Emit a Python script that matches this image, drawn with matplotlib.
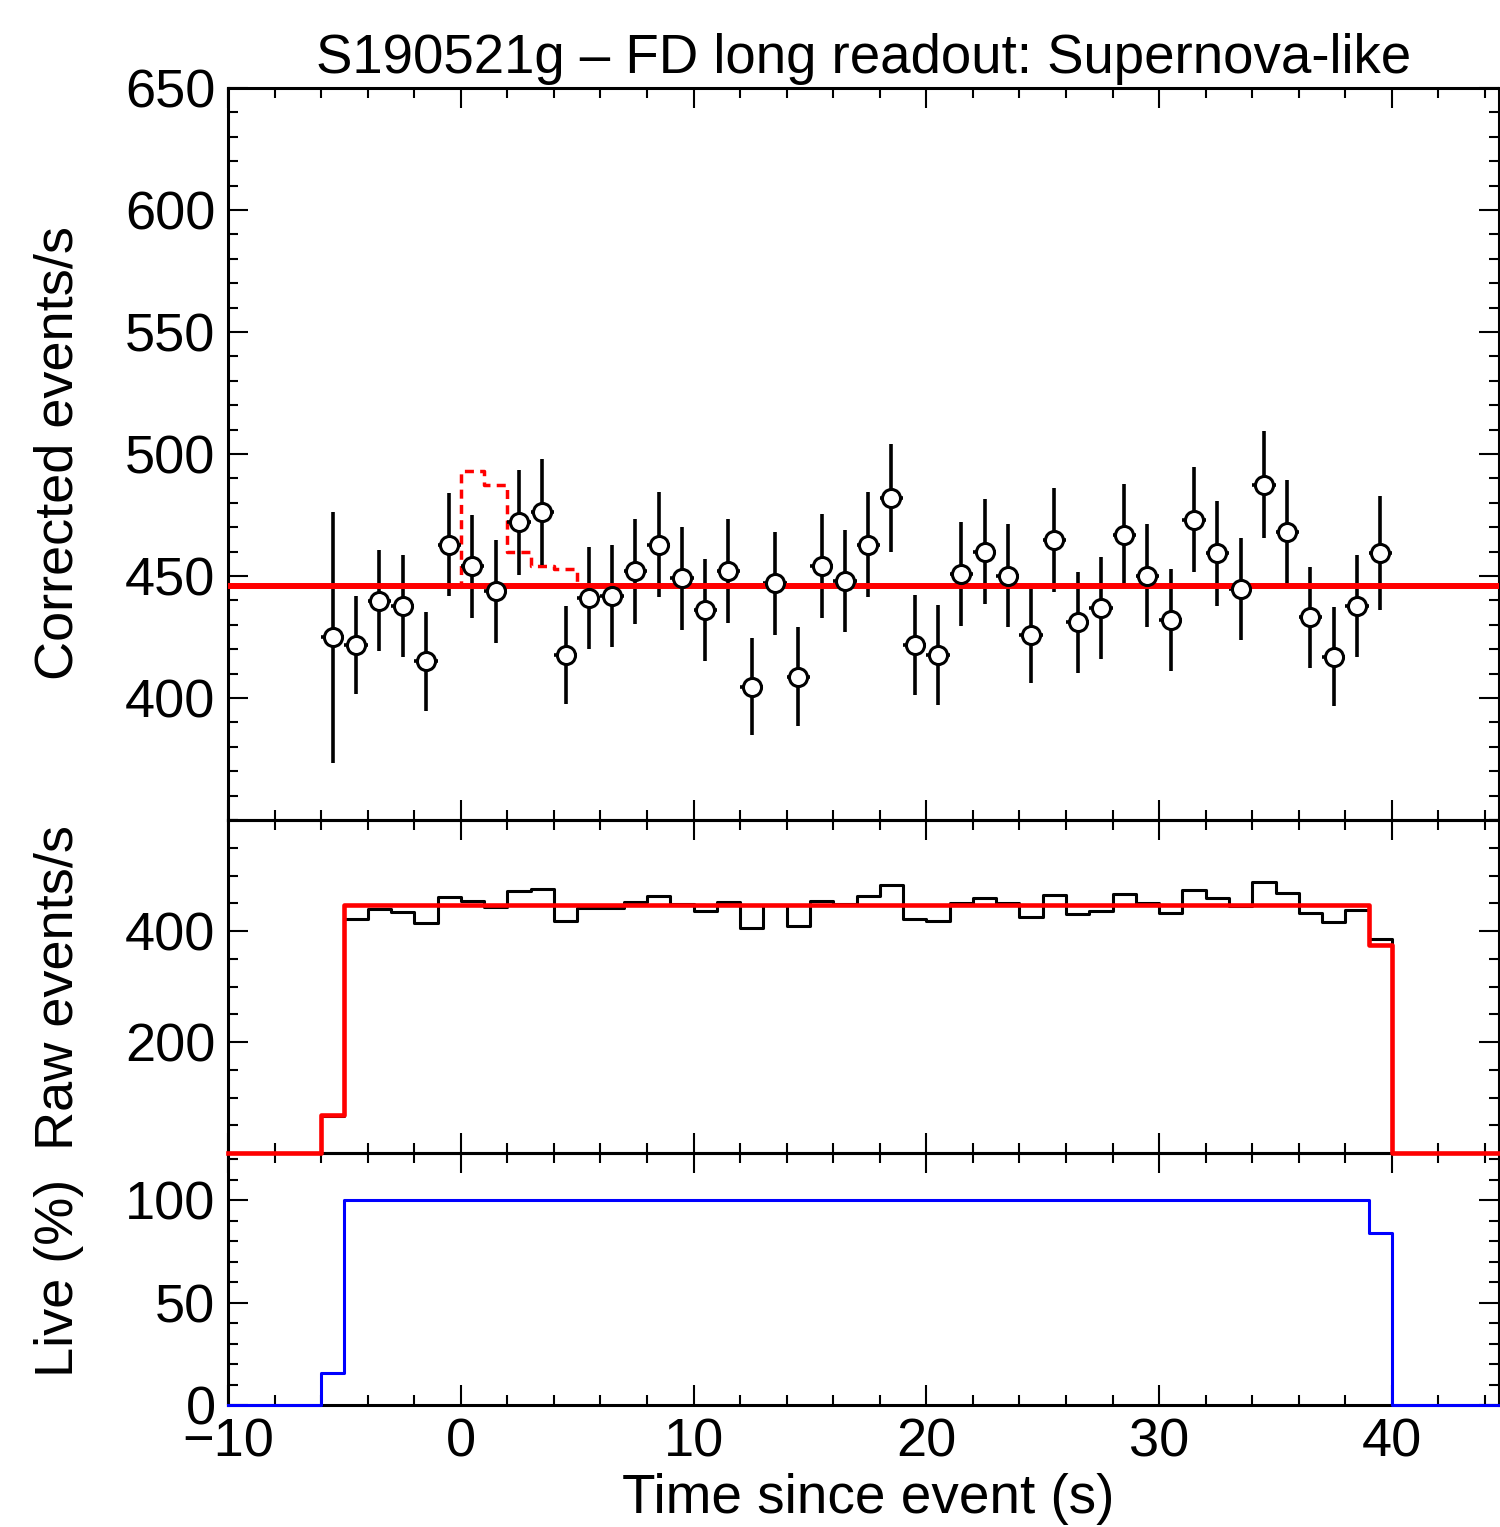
import matplotlib.pyplot as plt
import numpy as np
from matplotlib.ticker import MultipleLocator

plt.rcParams['font.family'] = ['Liberation Sans', 'DejaVu Sans']

# bin centres of the 1 s bins (-6 .. 40)
t_centers = np.arange(-5.5, 40.0, 1.0)

# corrected rate (events/s) and its error
corrected = [424.8, 421.7, 439.9, 437.8, 415.0, 462.9, 454.0, 443.7, 472.0, 476.2,
             417.7, 441.0, 441.9, 451.9, 462.9, 449.0, 436.0, 452.0, 404.7, 447.1,
             408.8, 454.2, 448.0, 462.9, 482.0, 421.7, 417.7, 450.8, 460.0, 450.1,
             425.9, 464.9, 431.0, 436.9, 467.0, 450.1, 432.0, 473.1, 459.3, 444.7,
             487.4, 468.0, 433.0, 416.9, 437.8, 459.3]
corrected_err = [51.4, 20.2, 20.7, 20.8, 20.3, 21.3, 21.2, 21.0, 21.4, 21.6,
                 20.2, 21.0, 20.9, 21.4, 21.5, 21.0, 20.9, 21.4, 20.0, 21.1,
                 20.2, 21.4, 21.0, 21.5, 22.1, 20.6, 20.5, 21.2, 21.4, 21.2,
                 19.7, 21.3, 20.7, 20.8, 20.9, 21.2, 20.8, 21.6, 21.4, 21.0,
                 22.0, 21.4, 20.6, 20.2, 20.8, 23.3]

# raw rate (events/s) in the same bins, middle panel
raw = [66, 421.7, 439.9, 434.8, 413.8, 461.8, 454.0, 443.7, 472.0, 476.2,
       417.7, 441.0, 441.9, 451.9, 462.9, 449.0, 436.0, 452.0, 404.7, 447.1,
       408.8, 454.2, 448.0, 462.9, 482.0, 421.7, 417.7, 450.8, 460.0, 450.1,
       425.9, 464.9, 431.0, 436.9, 467.0, 450.1, 432.0, 473.1, 459.3, 444.7,
       487.4, 468.0, 433.0, 416.9, 437.8, 385.0]

# flat background fit
background = 446

# supernova-like expectation (dashed)
sn_edges = [-10, 0, 1, 2, 3, 4, 5, 44.6]
sn_rate = [446, 493, 487.5, 460, 454, 453, 446]

# expected raw rate and live fraction
live_edges = [-10, -6, -5, 39, 40, 44.6]
model_raw = [0, 69, 446, 375, 0]
live_pct = [0, 15.5, 100, 84, 0]

xmin, xmax = -10, 44.6
FS = 39
W, H = 1500, 1527
fig = plt.figure(figsize=(W / 100, H / 100), dpi=100)
left = 228 / W
width = 1499 / W - left


def panel(top_px, bot_px):
    return fig.add_axes([left, 1 - bot_px / H, width, (bot_px - top_px) / H])


def step_line(ax, edges, vals, **kw):
    # histogram outline drawn as a post step
    ax.step(edges, list(vals) + [vals[-1]], where='post', **kw)


ax1 = panel(88, 820)
ax3 = panel(1153, 1405)
ax2 = panel(820, 1153)
ax2.set_zorder(3)
ax2.patch.set_visible(False)

for ax in (ax1, ax2, ax3):
    ax.set_xlim(xmin, xmax)
    ax.xaxis.set_major_locator(MultipleLocator(10))
    ax.xaxis.set_minor_locator(MultipleLocator(2))
    ax.tick_params(which='both', direction='in', top=True, right=True,
                   labelsize=FS, width=1.5, pad=9)
    ax.tick_params(which='major', length=14.5)
    ax.tick_params(which='minor', length=7)
    for s in ax.spines.values():
        s.set_linewidth(2.2)
for ax in (ax1, ax2):
    ax.tick_params(labelbottom=False)

# top panel: corrected rate
edges = np.concatenate([t_centers - 0.5, [t_centers[-1] + 0.5]])
step_line(ax1, sn_edges, sn_rate, color='red', lw=2.5,
          linestyle=(0, (2.6, 1.8)), zorder=2)
ax1.errorbar(t_centers, corrected, yerr=corrected_err, xerr=0.5, fmt='none',
             ecolor='black', elinewidth=2.6, capsize=0, zorder=2.5)
ax1.axhline(background, color='red', lw=4.3, zorder=3)
ax1.plot(t_centers, corrected, 'o', ms=13, mfc='white', mec='black', mew=2.2,
         zorder=4)
ax1.set_ylim(350, 650)
ax1.set_yticks(np.arange(400, 651, 50))
ax1.yaxis.set_minor_locator(MultipleLocator(10))
ax1.set_title('S190521g – FD long readout: Supernova-like', fontsize=39.3, pad=11)

# middle panel: raw rate
full_edges = np.concatenate([[xmin], edges, [xmax]])
step_line(ax2, full_edges, np.concatenate([[0], raw, [0]]), color='black',
          lw=2.2, zorder=2)
step_line(ax2, live_edges, model_raw, color='red', lw=3.3, zorder=3,
          clip_on=False)
ax2.set_ylim(0, 600)
ax2.set_yticks([200, 400])
ax2.yaxis.set_minor_locator(MultipleLocator(50))

# bottom panel: live time
step_line(ax3, live_edges, live_pct, color='#0000ff', lw=2.2, zorder=3,
          clip_on=False)
ax3.set_ylim(0, 123)
ax3.set_yticks([0, 50, 100])
ax3.yaxis.set_minor_locator(MultipleLocator(10))

fig.text(59 / W, 1 - 453 / H, 'Corrected events/s', rotation=90, fontsize=FS,
         ha='center', va='center')
fig.text(59 / W, 1 - 987 / H, 'Raw events/s', rotation=90, fontsize=FS,
         ha='center', va='center')
fig.text(59 / W, 1 - 1278 / H, 'Live (%)', rotation=90, fontsize=FS,
         ha='center', va='center')
fig.text(868 / W, 1 - 1513 / H, 'Time since event (s)', fontsize=39.5,
         ha='center', va='baseline')

fig.savefig('out.png', dpi=100)
